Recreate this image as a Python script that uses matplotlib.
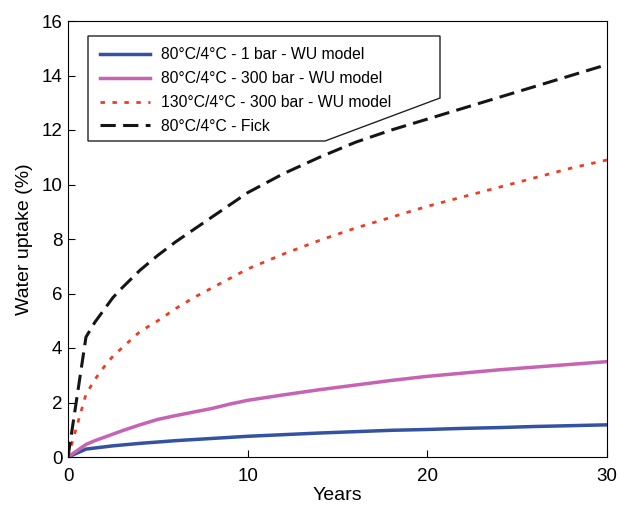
import matplotlib
matplotlib.use('Agg')
import matplotlib.pyplot as plt
from matplotlib.patches import Polygon

plt.rcParams['font.family'] = ['Liberation Sans', 'DejaVu Sans']

years = [0, 1, 1.5, 2, 2.5, 3, 4, 5, 6, 7, 8, 9, 10, 12, 14, 16, 18, 20, 22, 24, 26, 28, 30]
wu_80_1bar = [0, 0.29, 0.33, 0.37, 0.41, 0.44, 0.5, 0.55, 0.6, 0.64, 0.68, 0.72, 0.76,
              0.82, 0.88, 0.93, 0.98, 1.01, 1.05, 1.08, 1.12, 1.15, 1.18]
wu_80_300bar = [0, 0.46, 0.6, 0.72, 0.84, 0.96, 1.18, 1.38, 1.52, 1.65, 1.78, 1.94, 2.08,
                2.28, 2.47, 2.64, 2.81, 2.96, 3.08, 3.2, 3.3, 3.4, 3.5]
wu_130_300bar = [0, 2.3, 2.85, 3.3, 3.7, 4.0, 4.6, 5.0, 5.45, 5.85, 6.2, 6.55, 6.9,
                 7.45, 7.95, 8.4, 8.8, 9.2, 9.55, 9.9, 10.25, 10.6, 10.9]
fick_80 = [0, 4.4, 4.95, 5.4, 5.85, 6.2, 6.85, 7.4, 7.9, 8.35, 8.8, 9.25, 9.7,
           10.4, 11.0, 11.55, 12.0, 12.4, 12.8, 13.2, 13.6, 14.0, 14.4]

labels = ['80°C/4°C - 1 bar - WU model', '80°C/4°C - 300 bar - WU model',
          '130°C/4°C - 300 bar - WU model', '80°C/4°C - Fick']

fig = plt.figure(figsize=(6.2, 5.05), dpi=100)
ax = fig.add_axes([68 / 620, 48 / 505, 539 / 620, 436 / 505])

ax.plot(years, wu_80_1bar, color='#3352a2', lw=2.5, label=labels[0])
ax.plot(years, wu_80_300bar, color='#c663b2', lw=2.5, label=labels[1])
ax.plot(years, wu_130_300bar, color='#f23a22', lw=2.0, dashes=(1.6, 2.7), label=labels[2])
ax.plot(years, fick_80, color='#151515', lw=2.2, dashes=(5, 2.4), label=labels[3])

ax.set_xlim(0, 30)
ax.set_ylim(0, 16)
ax.set_xticks([0, 10, 20, 30])
ax.set_yticks(range(0, 17, 2))
ax.tick_params(direction='in', length=5, labelsize=13.5)
ax.tick_params(axis='x', pad=8)
ax.tick_params(axis='y', pad=4)
ax.set_xlabel('Years', fontsize=14, labelpad=1)
ax.set_ylabel('Water uptake (%)', fontsize=14, labelpad=6)

# legend frame with cut corner, in pixel coords
corners = [(88, 36), (440, 36), (440, 98), (325, 141), (88, 141)]
pts = [(x / 620, 1 - y / 505) for x, y in corners]
fig.patches.append(Polygon(pts, closed=True, fill=False, edgecolor='#222222',
                           lw=1.0, transform=fig.transFigure, zorder=5))

ax.legend(loc='upper left', bbox_to_anchor=(86 / 620, 1 - 33 / 505),
          bbox_transform=fig.transFigure, frameon=False, fontsize=11.3,
          handlelength=3.2, labelspacing=0.57, handletextpad=0.65)

fig.savefig('out.png', dpi=100)
